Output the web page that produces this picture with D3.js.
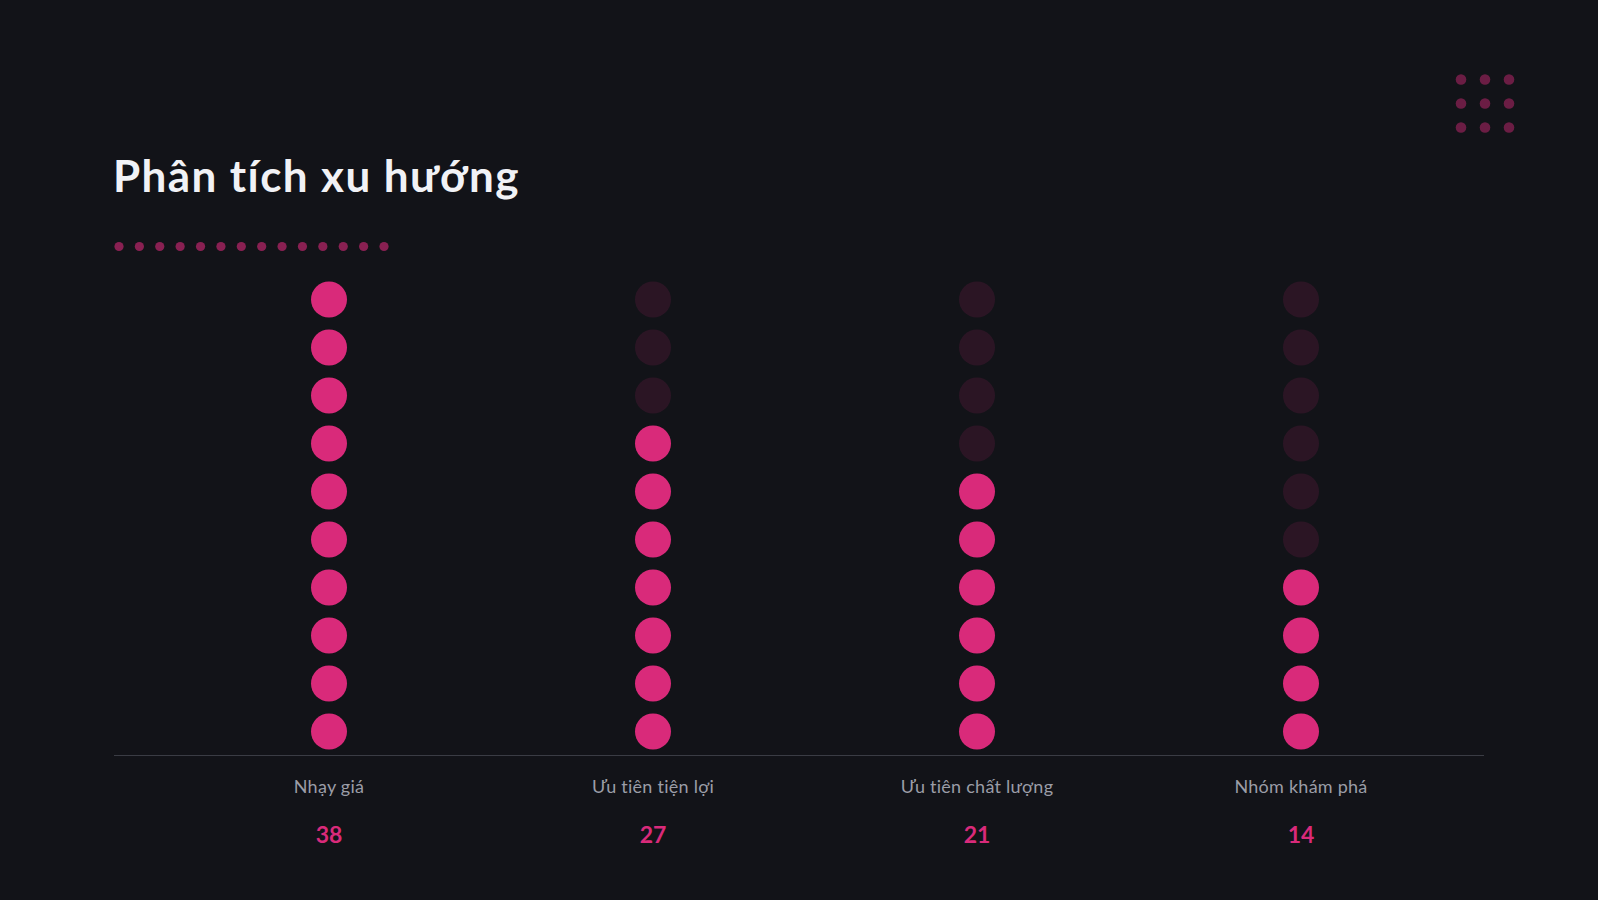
<!DOCTYPE html>
<html><head><meta charset="utf-8">
<script src="https://cdn.jsdelivr.net/npm/d3@7"></script>
<style>
html,body{margin:0;padding:0;background:#121318;}
svg{display:block;}
</style></head>
<body>
<svg id="chart" width="1598" height="900"></svg>
<script>
const title = "Phân tích xu hướng";
const categories = ["Nhạy giá", "Ưu tiên tiện lợi", "Ưu tiên chất lượng", "Nhóm khám phá"];
const values = [38, 27, 21, 14];
const dotsPerColumn = 10;

const W = 1598, H = 900;
const pink = "#d92a7a";
const svg = d3.select("#chart");
svg.append("rect").attr("width", W).attr("height", H).attr("fill", "#121318");

// decorative grid top-right
const gx = d3.scaleLinear().domain([0, 2]).range([1461, 1509]);
const gy = d3.scaleLinear().domain([0, 2]).range([79.5, 127.5]);
const gridPts = d3.cross(d3.range(3), d3.range(3));
svg.append("g").selectAll("circle").data(gridPts).join("circle")
  .attr("cx", d => gx(d[0])).attr("cy", d => gy(d[1])).attr("r", 5.3)
  .attr("fill", pink).attr("opacity", 0.45);

// title
svg.append("text").attr("x", 113).attr("y", 192)
  .attr("font-family", "Lato, 'Noto Sans', sans-serif").attr("font-weight", 700)
  .attr("font-size", 44).attr("letter-spacing", 1.4).attr("fill", "#f1f2f6").text(title);

// decorative row
const rx = d3.scaleLinear().domain([0, 13]).range([119, 384]);
svg.append("g").selectAll("circle").data(d3.range(14)).join("circle")
  .attr("cx", d => rx(d)).attr("cy", 246.5).attr("r", 4.6)
  .attr("fill", pink).attr("opacity", 0.6);

// scales
const x = d3.scaleBand().domain(categories).range([167, 1463]).padding(0);
const y = d3.scaleLinear().domain([0, dotsPerColumn - 1]).range([731.5, 299.5]);
const maxV = d3.max(values);

const data = categories.map((c, i) => ({ c, v: values[i], filled: Math.round(values[i] / maxV * dotsPerColumn) }));

const cols = svg.append("g").selectAll("g").data(data).join("g")
  .attr("transform", d => `translate(${x(d.c) + x.bandwidth() / 2},0)`);

cols.selectAll("circle").data(d => d3.range(dotsPerColumn).map(k => ({ k, on: k < d.filled })))
  .join("circle")
  .attr("cx", 0).attr("cy", d => y(d.k)).attr("r", 18)
  .attr("fill", pink).attr("opacity", d => d.on ? 1 : 0.13);

// baseline
svg.append("line").attr("x1", 114).attr("x2", 1484).attr("y1", 755.5).attr("y2", 755.5)
  .attr("stroke", "#3a3c44").attr("stroke-width", 1.2);

cols.append("text").attr("y", 793).attr("text-anchor", "middle")
  .attr("font-family", "Lato, 'Noto Sans', sans-serif").attr("font-size", 18)
  .attr("letter-spacing", 0.25)
  .attr("fill", "#9b9da7").text(d => d.c);

cols.append("text").attr("y", 843).attr("text-anchor", "middle")
  .attr("font-family", "Lato, 'Noto Sans', sans-serif").attr("font-weight", 700).attr("font-size", 23)
  .attr("fill", pink).text(d => d.v);
</script>
</body></html>
